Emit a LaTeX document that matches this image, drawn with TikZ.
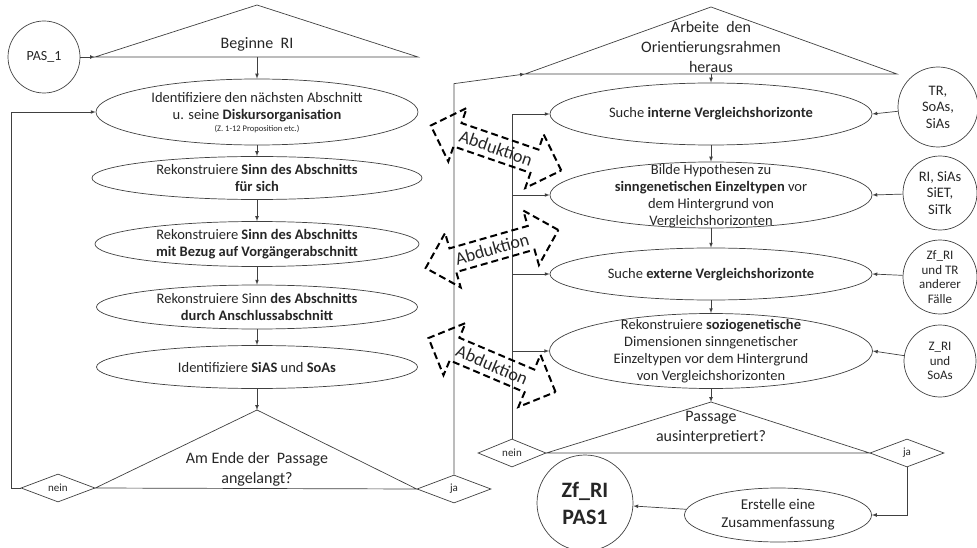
\documentclass[tikz,border=0pt]{standalone}
\usepackage{fontspec}
\setmainfont{Carlito}
\usepackage{tikz}
\usetikzlibrary{arrows,shapes.geometric,shapes.arrows,calc}
\definecolor{lin}{HTML}{404040}
\definecolor{txtc}{HTML}{262626}
\tikzset{flow/.style={-latex,draw=lin,line width=0.7pt},
  tri/.style={draw=lin,line width=0.7pt},
  ell/.style={ellipse,draw=lin,line width=0.7pt,inner sep=0pt},
  txt/.style={align=center,text=txtc,font=\fontsize{14.5}{17}\selectfont},
  ttxt/.style={align=center,text=txtc,font=\fontsize{16}{20}\selectfont},
  src/.style={circle,draw=lin,line width=0.7pt,inner sep=0pt,align=center,text=txtc,minimum size=74pt,font=\fontsize{14.5}{16.5}\selectfont},
  dec/.style={diamond,draw=lin,line width=0.7pt,inner sep=0pt,minimum width=74pt,minimum height=28pt,text=txtc,font=\fontsize{11}{12}\selectfont},
  abd/.style={double arrow,draw,line width=2pt,dash pattern=on 7pt off 4pt,double arrow head extend=16pt,inner xsep=1pt,inner ysep=5pt,minimum height=138pt,text=txtc,font=\fontsize{18}{20}\selectfont}}

\begin{document}
\begin{tikzpicture}[x=1pt,y=-1pt]
          \def\lx{257} \def\rx{711}
          \useasboundingbox (0,0) rectangle (977,548);

          \node (pas) at (44,57) [src,minimum size=72pt,font=\fontsize{14}{17}\selectfont] {PAS\_1};
          \coordinate (beg-l) at (95,57);
          \coordinate (beg-t) at (\lx,5);
          \coordinate (beg-r) at (418,57);
          \coordinate (beg-b) at (\lx,57);
          \draw[tri] (beg-l) -- (beg-t) -- (beg-r) -- cycle;
          \node (beg) at (\lx,44) [ttxt] {Beginne\ \ RI};

          \node (e1) at (\lx,112) [ell,minimum width=322pt,minimum height=66pt] {};
          \node (e2) at (\lx,178) [ell,minimum width=330pt,minimum height=43pt] {};
          \node (e3) at (\lx,244) [ell,minimum width=324pt,minimum height=45pt] {};
          \node (e4) at (\lx,307) [ell,minimum width=321pt,minimum height=44pt] {};
          \node (e5) at (\lx,367) [ell,minimum width=321pt,minimum height=43pt] {};

          \node (t1) at (\lx,113) [txt] {Identifiziere den nächsten Abschnitt\\u. seine \textbf{Diskursorganisation}\\[-5pt]{\fontsize{8.5}{9}\selectfont (Z. 1-12 Proposition etc.)}};
          \node (t2) at (\lx,178) [txt] {Rekonstruiere \textbf{Sinn des Abschnitts}\\\textbf{für sich}};
          \node (t3) at (\lx,244) [txt] {Rekonstruiere \textbf{Sinn des Abschnitts}\\\textbf{mit Bezug auf Vorgängerabschnitt}};
          \node (t4) at (\lx,307) [txt] {Rekonstruiere Sinn \textbf{des Abschnitts}\\\textbf{durch Anschlussabschnitt}};
          \node (t5) at (\lx,367) [txt] {Identifiziere \textbf{SiAS} und \textbf{SoAs}};

          \node (nein1) at (58,488) [dec] {nein};
          \node (ja1) at (454,489) [dec] {ja};
          \coordinate (end-t) at (\lx,410);
          \draw[tri] (nein1.east) -- (end-t) -- (ja1.west) -- cycle;
          \node (end) at (\lx,469) [ttxt] {Am Ende der\ \ Passage\\angelangt?};

          \draw[flow] (pas) -- (beg-l);
          \draw[flow] (beg-b) -- (e1);
          \draw[flow] (e1) -- (e2);
          \draw[flow] (e2) -- (e3);
          \draw[flow] (e3) -- (e4);
          \draw[flow] (e4) -- (e5);
          \draw[flow] (e5) -- (end-t);
          \draw[flow] (nein1.west) -- ++(-9,0) |- (e1.west);

          \coordinate (arb-l) at (525,74);
          \coordinate (arb-t) at (\rx,7);
          \coordinate (arb-r) at (897,74);
          \coordinate (arb-b) at (\rx,74);
          \draw[tri] (arb-l) -- (arb-t) -- (arb-r) -- cycle;
          \node (arb) at (\rx,47) [ttxt] {Arbeite\ \ den\\Orientierungsrahmen\\heraus};
          \draw[flow] (ja1.north) -- ++(0,-391) -- (arb-l);

          \node (e6) at (\rx,114) [ell,minimum width=322pt,minimum height=62pt] {};
          \node (e7) at (\rx,195) [ell,minimum width=322pt,minimum height=66pt] {};
          \node (e8) at (\rx,274) [ell,minimum width=322pt,minimum height=52pt] {};
          \node (e9) at (\rx,351) [ell,minimum width=323pt,minimum height=75pt] {};

          \node (t6) at (\rx,114) [txt] {Suche \textbf{interne Vergleichshorizonte}};
          \node (t7) at (\rx,196) [txt] {Bilde Hypothesen zu\\\textbf{sinngenetischen Einzeltypen} vor\\dem Hintergrund von\\Vergleichshorizonten};
          \node (t8) at (\rx,275) [txt] {Suche \textbf{externe Vergleichshorizonte}};
          \node (t9) at (\rx,351) [txt] {Rekonstruiere \textbf{soziogenetische}\\Dimensionen sinngenetischer\\Einzeltypen vor dem Hintergrund\\von Vergleichshorizonten};

          \node (nein2) at (512,453) [dec,minimum width=68pt] {nein};
          \node (ja2) at (907,453) [dec] {ja};
          \coordinate (pas-t) at (\rx,402);
          \draw[tri] (nein2.east) -- (pas-t) -- (ja2.west) -- cycle;
          \node (pa) at (\rx,428) [ttxt] {Passage\\ausinterpretiert?};

          \node (e10) at (778,515) [ell,minimum width=187pt,minimum height=54pt] {};
          \node (t10) at (778,515) [txt,font=\fontsize{15}{18}\selectfont] {Erstelle eine\\Zusammenfassung};
          \node (zf) at (585,503) [src,minimum size=96pt,font=\fontsize{22}{27}\selectfont\bfseries] {Zf\_RI\\PAS1};

          \node (c1) at (938,107) [src,minimum size=80pt] {TR,\\SoAs,\\SiAs};
          \node (c2) at (940,193) [src] {RI, SiAs\\SiET,\\SiTk};
          \node (c3) at (940,277) [src,font=\fontsize{13}{14.5}\selectfont] {Zf\_RI\\und TR\\anderer\\Fälle};
          \node (c4) at (940,361) [src,minimum size=72pt,font=\fontsize{13}{14.5}\selectfont] {Z\_RI\\und\\SoAs};

          \draw[flow] (arb-b) -- (e6);
          \draw[flow] (e6) -- (e7);
          \draw[flow] (e7) -- (e8);
          \draw[flow] (e8) -- (e9);
          \draw[flow] (e9) -- (pas-t);
          \draw[flow] (nein2.north) |- (e6.west);
          \draw[flow] (nein2.north |- e7.west) -- (e7.west);
          \draw[flow] (nein2.north |- e8.west) -- (e8.west);
          \draw[flow] (nein2.north |- e9.west) -- (e9.west);
          \draw[flow] (ja2.south) |- (e10.east);
          \draw[flow] (e10) -- (zf);
          \draw[flow] (c1) -- (e6.east);
          \draw[flow] (c2) -- (e7.east);
          \draw[flow] (c3) -- (e8.east);
          \draw[flow] (c4) -- (e9.east);

          \node (abd1) at (496,148) [abd,rotate=-19] {Abduktion};
          \node (abd2) at (492,249) [abd,rotate=16] {Abduktion};
          \node (abd3) at (492,365) [abd,rotate=-23] {Abduktion};
        \end{tikzpicture}
\end{document}
